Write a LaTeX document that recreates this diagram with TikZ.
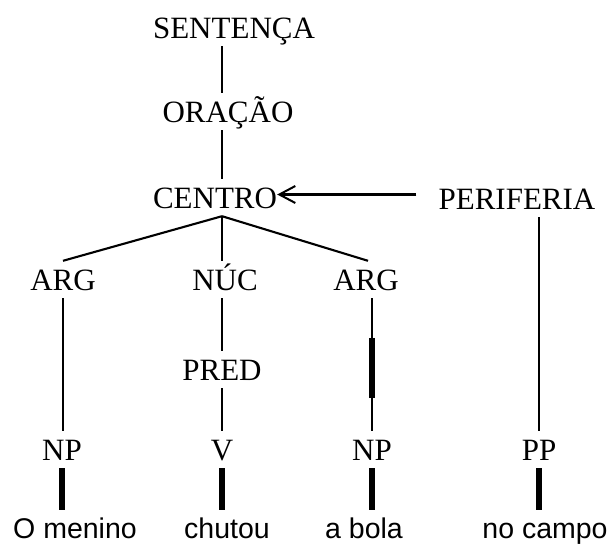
\documentclass[tikz,border=0pt]{standalone}
\usepackage{fontspec}
\setmainfont{Liberation Serif}
\newfontfamily\wordfont{Liberation Sans}
\usetikzlibrary{arrows.meta,calc}
\begin{document}
\begin{tikzpicture}[x=1pt,y=-1pt,
  lab/.style={font=\fontsize{31}{31}\selectfont, anchor=base, inner xsep=0pt, inner ysep=8pt, text height=21pt, text depth=0pt},
  word/.style={font=\wordfont\fontsize{28.5}{28.5}\selectfont, anchor=base, inner xsep=0pt, inner ysep=7pt, text height=20.5pt, text depth=0pt},
  edge/.style={line width=2.1pt},
  bold/.style={line width=5.5pt}]
\useasboundingbox (0,0) rectangle (612,543);
\coordinate (ax) at (222,0);
% labels
\node[lab] (sent)  at (234,38)  {SENTENÇA};
\node[lab] (orac)  at (228,122) {ORAÇÃO};
\node[lab] (centro) at (215,208) {CENTRO};
\node[lab] (peri)  at (517,209) {PERIFERIA};
\node[lab] (arg1)  at (63,290)  {ARG};
\node[lab] (nuc)   at (225,290) {NÚC};
\node[lab] (arg2)  at (366,290) {ARG};
\node[lab] (pred)  at (222,380) {PRED};
\node[lab] (np1)   at (62,460)  {NP};
\node[lab] (v)     at (222,460) {V};
\node[lab] (np2)   at (372,460) {NP};
\node[lab] (pp)    at (539,460) {PP};
% words
\node[word] (w1) at (75,538)  {O menino};
\node[word] (w2) at (227,538) {chutou};
\node[word] (w3) at (364,538) {a bola};
\node[word] (w4) at (545,538) {no campo};
% spine
\draw[edge] (sent.south -| ax) -- (orac.north -| ax);
\draw[edge] (orac.south -| ax) -- (centro.north -| ax);
% branches
\draw[edge] (centro.south -| ax) -- (arg1.north);
\draw[edge] (centro.south -| ax) -- (nuc.north -| ax);
\draw[edge] (centro.south -| ax) -- ([xshift=2pt]arg2.north);
% arrow
\draw[edge, -{Straight Barb[length=16pt,width=17pt,line width=2pt]}, shorten <=22pt]
  ([yshift=3pt]centro.east -| peri.west) -- ([yshift=3pt]centro.east);
% lower lines
\draw[edge] (arg1.south) -- (arg1.south |- np1.north);
\draw[edge] (nuc.south -| ax) -- (pred.north -| ax);
\draw[edge] (pred.south -| ax) -- (v.north -| ax);
\draw[edge] (np2.north |- arg2.south) -- (np2.north);
\draw[bold] ($(np2.north |- arg2.south)!0.3!(np2.north)$) -- ($(np2.north |- arg2.south)!0.75!(np2.north)$);
\draw[edge] (peri.south -| pp.north) -- (pp.north);
% thick word links
\draw[bold] (np1.south) -- (np1.south |- w1.north);
\draw[bold] (v.south) -- (v.south |- w2.north);
\draw[bold] (np2.south) -- (np2.south |- w3.north);
\draw[bold] (pp.south) -- (pp.south |- w4.north);
\end{tikzpicture}
\end{document}
